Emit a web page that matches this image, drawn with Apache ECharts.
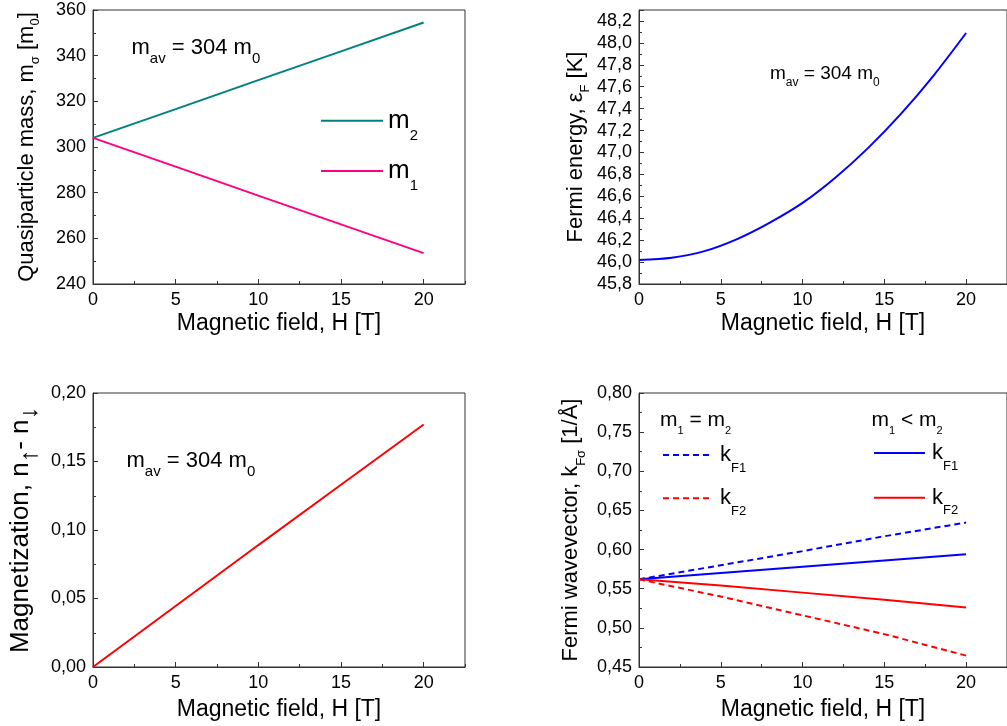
<!DOCTYPE html>
<html><head><meta charset="utf-8">
<script src="https://cdn.jsdelivr.net/npm/echarts@6/dist/echarts.min.js"></script>
<style>html,body{margin:0;padding:0;background:#fff}#c{width:1007px;height:726px}</style>
</head><body><div id="c"></div>
<script>
// ---------- data ----------
const fieldH = [0, 5, 10, 15, 20];
const fieldHFine = [0, 2, 4, 6, 8, 10, 12, 14, 16, 18, 20];
const massM2 = [304, 316.6, 329.3, 341.9, 354.5];
const massM1 = [304, 291.4, 278.7, 266.1, 253.5];
const fermiEnergy = [46.02, 46.04, 46.10, 46.21, 46.36, 46.54, 46.77, 47.04, 47.35, 47.70, 48.09];
const magnetization = [0, 0.0445, 0.089, 0.133, 0.177];
const kF1equal = [0.562, 0.580, 0.598, 0.617, 0.6345];
const kF2equal = [0.562, 0.540, 0.516, 0.492, 0.4645];
const kF1unequal = [0.562, 0.570, 0.578, 0.586, 0.594];
const kF2unequal = [0.562, 0.554, 0.545, 0.536, 0.526];
const xTicks = [0, 5, 10, 15, 20];
const massTicks = [240, 260, 280, 300, 320, 340, 360];
const energyTicks = [45.8, 46.0, 46.2, 46.4, 46.6, 46.8, 47.0, 47.2, 47.4, 47.6, 47.8, 48.0, 48.2];
const magnTicks = [0, 0.05, 0.10, 0.15, 0.20];
const kTicks = [0.45, 0.50, 0.55, 0.60, 0.65, 0.70, 0.75, 0.80];

// ---------- helpers ----------
const FONT = "'Liberation Sans', Arial, sans-serif";
const AX = '#333';
const pairs = (xs, ys) => xs.map((x, i) => [x, ys[i]]);
const comma = d => v => Number(v).toFixed(d).replace('.', ',');
function sub(fsMain, lh, fsSub, drop) {
  return { fontSize: fsSub, fontFamily: FONT, lineHeight: 1, verticalAlign: 'top',
    padding: [Math.max(0, drop - 0.85 * fsSub + lh / 2 + 0.35 * fsMain), 0, 0, 0] };
}
function inTicks(list, v) { return list.some(t => Math.abs(t - v) < 1e-6); }

const grids = [
  { left: 93, top: 10, width: 372, height: 274 },
  { left: 639, top: 10, width: 371, height: 274 },
  { left: 93, top: 393, width: 372, height: 274 },
  { left: 639, top: 393, width: 371, height: 274 }
].map(g => Object.assign({ show: true, borderColor: AX, borderWidth: 1, backgroundColor: 'transparent' }, g));

const xAxes = [], yAxes = [];
function addX(g, gap) {
  xAxes.push({ gridIndex: g, type: 'value', position: 'bottom', min: 0, max: 22.5, interval: 5,
    axisLine: { show: true, lineStyle: { color: AX, width: 1 } },
    axisTick: { show: true, inside: true, length: 5, lineStyle: { color: AX } },
    axisLabel: { show: true, margin: 7, fontSize: 18, fontFamily: FONT, color: '#000', showMaxLabel: false,
      formatter: v => inTicks(xTicks, v) ? String(v) : '' },
    splitLine: { show: false },
    name: 'Magnetic field, H [T]', nameLocation: 'middle', nameGap: gap,
    nameTextStyle: { fontSize: 23, fontFamily: FONT, color: '#000' } });
  xAxes.push({ gridIndex: g, type: 'value', position: 'bottom', min: 0, max: 22.5, interval: 2.5,
    axisLine: { show: false }, axisTick: { show: true, inside: true, length: 3, lineStyle: { color: AX } },
    axisLabel: { show: false }, splitLine: { show: false } });
}
function addY(g, o) {
  yAxes.push({ gridIndex: g, type: 'value', position: 'left', min: o.min, max: o.max, interval: o.interval,
    axisLine: { show: true, lineStyle: { color: AX, width: 1 } },
    axisTick: { show: true, inside: true, length: 5, lineStyle: { color: AX } },
    axisLabel: { show: true, margin: 7, fontSize: 18, fontFamily: FONT, color: '#000',
      formatter: v => inTicks(o.ticks, v) ? o.fmt(v) : '' },
    splitLine: { show: false },
    name: o.name, nameLocation: 'middle', nameGap: o.gap,
    nameTextStyle: { fontSize: o.fs, lineHeight: o.fs, fontFamily: FONT, color: '#000', rich: { s: o.sub } } });
  yAxes.push({ gridIndex: g, type: 'value', position: 'left', min: o.min, max: o.max, interval: o.interval / 2,
    axisLine: { show: false }, axisTick: { show: true, inside: true, length: 3, lineStyle: { color: AX } },
    axisLabel: { show: false }, splitLine: { show: false } });
}
addX(0, 28); addX(1, 28); addX(2, 31); addX(3, 31);
addY(0, { min: 240, max: 360, interval: 20, ticks: massTicks, fmt: v => String(v), gap: 55, fs: 22,
  name: 'Quasiparticle mass, m{s|σ} [m{s|0}]', sub: sub(22, 22, 13, 5) });
addY(1, { min: 45.8, max: 48.3, interval: 0.2, ticks: energyTicks, fmt: comma(1), gap: 52, fs: 22,
  name: 'Fermi energy, ε{s|F} [K]', sub: sub(22, 22, 13, 6) });
addY(2, { min: 0, max: 0.2, interval: 0.05, ticks: magnTicks, fmt: comma(2), gap: 59, fs: 26,
  name: 'Magnetization, n{s|↑}- n{s|↓}', sub: sub(26, 26, 25, 9) });
addY(3, { min: 0.45, max: 0.8, interval: 0.05, ticks: kTicks, fmt: comma(2), gap: 57, fs: 22,
  name: 'Fermi wavevector, k{s|Fσ} [1/Å]', sub: sub(22, 22, 13, 7) });

function line(name, g, xs, ys, color, dashed) {
  return { name, type: 'line', xAxisIndex: g * 2, yAxisIndex: g * 2, data: pairs(xs, ys),
    symbol: 'none', showSymbol: false, smooth: false, silent: true,
    lineStyle: { color, width: 2, type: dashed ? [6, 4] : 'solid' }, itemStyle: { color } };
}
const series = [
  line('m2', 0, fieldH, massM2, '#008080'),
  line('m1', 0, fieldH, massM1, '#ff0080'),
  Object.assign(line('eF', 1, fieldHFine, fermiEnergy, '#0000ff'), { smooth: 0.3 }),
  line('M', 2, fieldH, magnetization, '#ff0000'),
  line('kF1 eq', 3, fieldH, kF1equal, '#0000ff', true),
  line('kF2 eq', 3, fieldH, kF2equal, '#ff0000', true),
  line('kF1 neq', 3, fieldH, kF1unequal, '#0000ff'),
  line('kF2 neq', 3, fieldH, kF2unequal, '#ff0000')
];

const legends = [
  { data: ['m2', 'm1'], left: 320, top: 106.7, itemWidth: 62, itemHeight: 14, itemGap: 14,
    formatter: n => 'm{s|' + n.slice(1) + '}',
    textStyle: { fontSize: 26, lineHeight: 28, fontFamily: FONT, color: '#000', rich: { s: sub(26, 28, 15, 11) } } },
  { data: ['kF1 eq', 'kF2 eq'], left: 662, top: 443, itemWidth: 48, itemHeight: 14, itemGap: 11.7,
    formatter: n => 'k{s|' + (n.startsWith('kF1') ? 'F1' : 'F2') + '}',
    textStyle: { fontSize: 22, lineHeight: 24, padding: [0, 0, 0, 4], fontFamily: FONT, color: '#000', rich: { s: sub(22, 24, 13, 10) } } },
  { data: ['kF1 neq', 'kF2 neq'], left: 873, top: 441, itemWidth: 51, itemHeight: 14, itemGap: 13,
    formatter: n => 'k{s|' + (n.startsWith('kF1') ? 'F1' : 'F2') + '}',
    textStyle: { fontSize: 22, lineHeight: 24, padding: [0, 0, 0, 2], fontFamily: FONT, color: '#000', rich: { s: sub(22, 24, 13, 10) } } }
].map(l => Object.assign({ orient: 'vertical', padding: 0, selectedMode: false,
  itemStyle: { opacity: 0, borderWidth: 0 } }, l));

function label(x, y, text, fs, fsSub, drop) {
  return { type: 'text', x, y, silent: true,
    style: { text, fontSize: fs, lineHeight: fs, fontFamily: FONT, fill: '#000', align: 'left', verticalAlign: 'middle',
      rich: { s: Object.assign(sub(fs, fs, fsSub, drop), { fill: '#000' }) } } };
}
const graphics = [
  label(131.5, 48, 'm{s|av} = 304 m{s|0}', 22, 15, 8.5),
  label(770, 73.7, 'm{s|av} = 304 m{s|0}', 19, 12, 7),
  label(126.5, 461, 'm{s|av} = 304 m{s|0}', 22, 15, 8.5),
  label(660, 420.4, 'm{s|1} = m{s|2}', 21, 11, 7),
  label(871.5, 420.4, 'm{s|1} < m{s|2}', 21, 11, 7)
];

const chart = echarts.init(document.getElementById('c'), null, { renderer: 'canvas' });
chart.setOption({
  animation: false,
  backgroundColor: '#fff',
  grid: grids, xAxis: xAxes, yAxis: yAxes,
  legend: legends, series, graphic: graphics
});
</script></body></html>
